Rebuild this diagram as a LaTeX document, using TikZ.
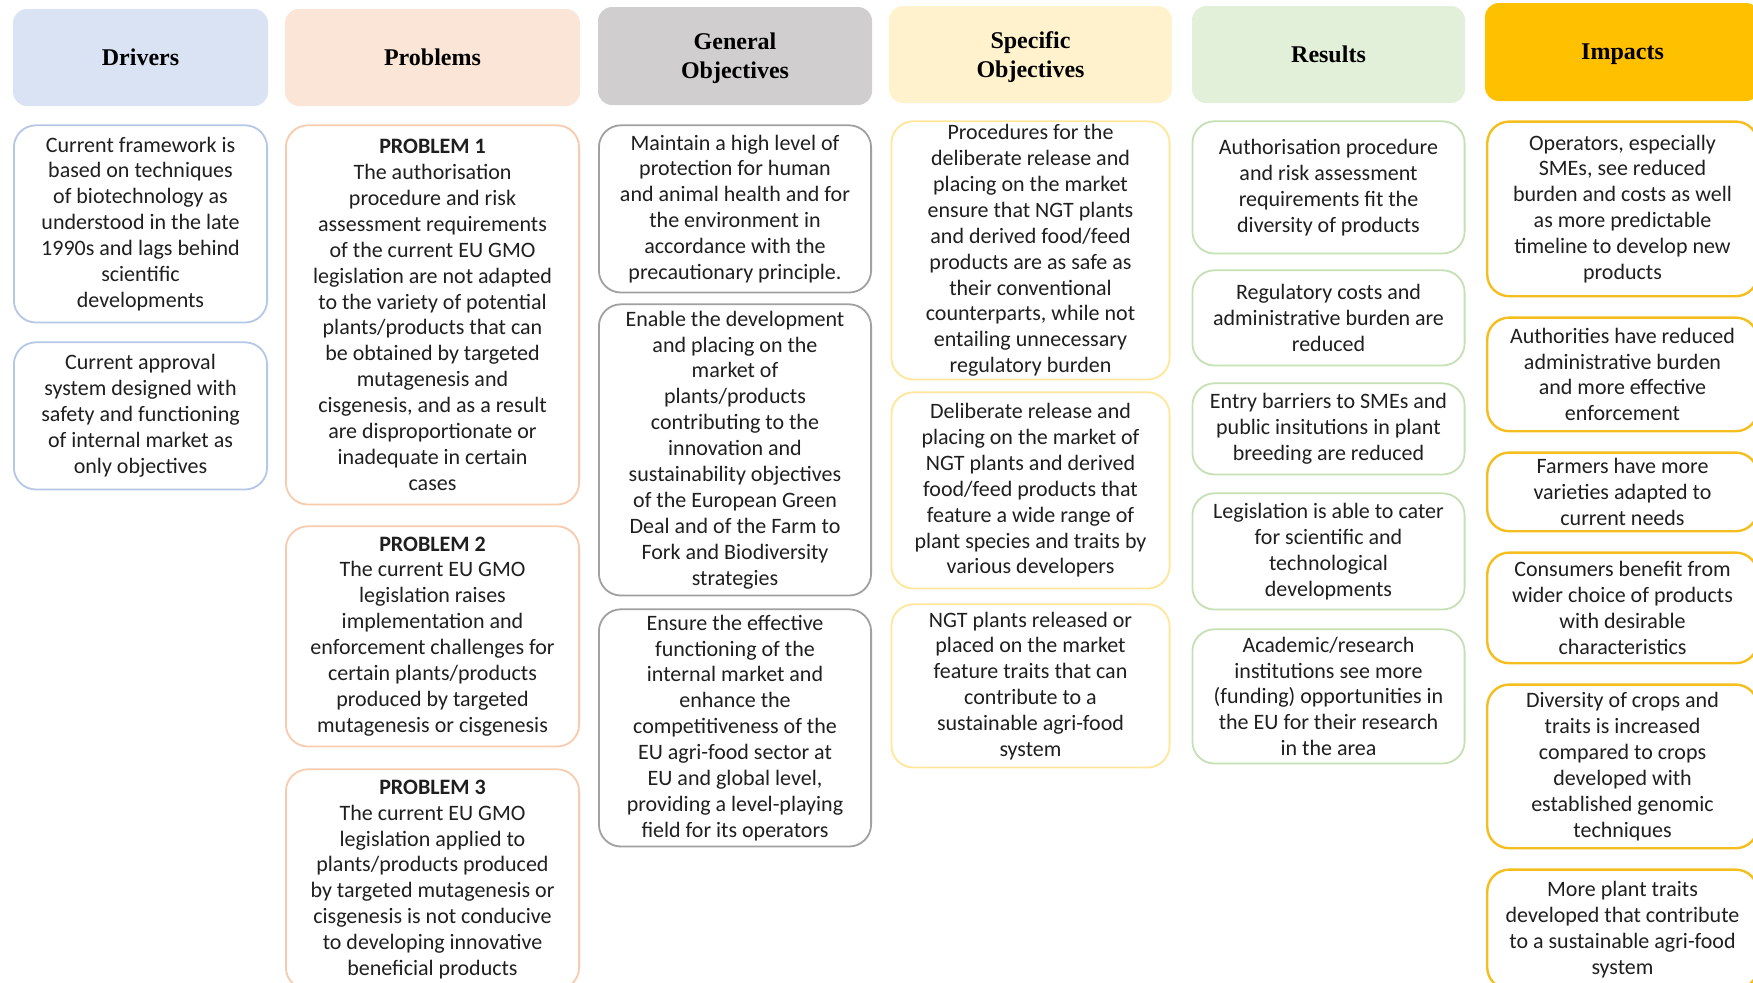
\documentclass[tikz,border=0pt]{standalone}
\usepackage{fontspec}
\setmainfont{Carlito}
\newfontfamily\headfont{Liberation Serif}
\usetikzlibrary{positioning}
\definecolor{drvfill}{HTML}{DAE3F3}
\definecolor{drvline}{HTML}{B4C7E7}
\definecolor{prbfill}{HTML}{FBE5D6}
\definecolor{prbline}{HTML}{F8CBAD}
\definecolor{genfill}{HTML}{D0CECE}
\definecolor{genline}{HTML}{A0A0A0}
\definecolor{spcfill}{HTML}{FFF2CC}
\definecolor{spcline}{HTML}{FFE699}
\definecolor{resfill}{HTML}{E2F0D9}
\definecolor{resline}{HTML}{C5E0B4}
\definecolor{impfill}{HTML}{FFC000}
\definecolor{impline}{HTML}{F5BE1E}

\begin{document}
\begin{tikzpicture}[head/.style={
rectangle,rounded corners=7pt,draw=none,inner sep=0pt,align=center,text depth=0pt,
font=\headfont\fontsize{12}{14.5}\selectfont\bfseries},
box/.style={
rectangle,rounded corners=11pt,fill=white,line width=0.9pt, % text boxes
inner sep=0pt,align=center,text=black!88,font=\fontsize{11}{12.95}\selectfont}]

\tikzset{
  drv/.style={draw=drvline,minimum width=126.6pt},
  prb/.style={draw=prbline,minimum width=146.6pt},
  gen/.style={draw=genline,minimum width=136.1pt},
  spc/.style={draw=spcline,minimum width=139.1pt},
  res/.style={draw=resline,minimum width=136.1pt},
  imp/.style={draw=impline,minimum width=135.3pt,line width=1.2pt}
}

    \useasboundingbox (0,0) rectangle (876.5pt,-491pt);
    \clip (0,0) rectangle (876.5pt,-491pt);

    \node[head,fill=drvfill,minimum width=127.5pt,minimum height=48.5pt] at (70.25pt,-28.75pt) (drivers) {Drivers};
    \node[head,fill=prbfill,minimum width=147.5pt,minimum height=48.5pt] at (216.25pt,-28.75pt) (problems) {Problems};
    \node[head,fill=genfill,minimum width=137pt,minimum height=49pt] at (367.5pt,-28pt) (general) {General\\Objectives};
    \node[head,fill=spcfill,minimum width=141.5pt,minimum height=48.5pt] at (515.25pt,-27.25pt) (specific) {Specific\\Objectives};
    \node[head,fill=resfill,minimum width=136.5pt,minimum height=48.5pt] at (664.25pt,-27.25pt) (results) {Results};
    \node[head,fill=impfill,minimum width=137.5pt,minimum height=49pt] at (811.25pt,-26pt) (impacts) {Impacts};

    \node[box,drv,minimum height=98.6pt,below=9pt of drivers] (drv1) {Current framework is\\based on techniques\\of biotechnology as\\understood in the late\\1990s and lags behind\\scientific\\developments};
    \node[box,drv,minimum height=73.6pt,below=9pt of drv1] (drv2) {Current approval\\system designed with\\safety and functioning\\of internal market as\\only objectives};

    \node[box,prb,minimum height=189.6pt,below=9pt of problems] (prb1) {\textbf{PROBLEM 1}\\The authorisation\\procedure and risk\\assessment requirements\\of the current EU GMO\\legislation are not adapted\\to the variety of potential\\plants/products that can\\be obtained by targeted\\mutagenesis and\\cisgenesis, and as a result\\are disproportionate or\\inadequate in certain\\cases};
    \node[box,prb,minimum height=110.1pt,below=10pt of prb1] (prb2) {\textbf{PROBLEM 2}\\The current EU GMO\\legislation raises\\implementation and\\enforcement challenges for\\certain plants/products\\produced by targeted\\mutagenesis or cisgenesis};
    \node[box,prb,minimum height=110.1pt,below=10.5pt of prb2] (prb3) {\textbf{PROBLEM 3}\\The current EU GMO\\legislation applied to\\plants/products produced\\by targeted mutagenesis or\\cisgenesis is not conducive\\to developing innovative\\beneficial products};

    \node[box,gen,minimum height=83.6pt,below=9.5pt of general] (gen1) {Maintain a high level of\\protection for human\\and animal health and for\\the environment in\\accordance with the\\precautionary principle.};
    \node[box,gen,minimum height=145.6pt,below=5pt of gen1] (gen2) {Enable the development\\and placing on the\\market of\\plants/products\\contributing to the\\innovation and\\sustainability objectives\\of the European Green\\Deal and of the Farm to\\Fork and Biodiversity\\strategies};
    \node[box,gen,minimum height=118.6pt,below=6pt of gen2] (gen3) {Ensure the effective\\functioning of the\\internal market and\\enhance the\\competitiveness of the\\EU agri-food sector at\\EU and global level,\\providing a level-playing\\field for its operators};

    \node[box,spc,minimum height=129.1pt,below=8.5pt of specific] (spc1) {Procedures for the\\deliberate release and\\placing on the market\\ensure that NGT plants\\and derived food/feed\\products are as safe as\\their conventional\\counterparts, while not\\entailing unnecessary\\regulatory burden};
    \node[box,spc,minimum height=98.1pt,below=5.5pt of spc1] (spc2) {Deliberate release and\\placing on the market of\\NGT plants and derived\\food/feed products that\\feature a wide range of\\plant species and traits by\\various developers};
    \node[box,spc,minimum height=81.6pt,below=7pt of spc2] (spc3) {NGT plants released or\\placed on the market\\feature traits that can\\contribute to a\\sustainable agri-food\\system};

    \node[box,res,minimum height=66.1pt,below=8.5pt of results] (res1) {Authorisation procedure\\and risk assessment\\requirements fit the\\diversity of products};
    \node[box,res,minimum height=47.6pt,below=7.5pt of res1] (res2) {Regulatory costs and\\administrative burden are\\reduced};
    \node[box,res,minimum height=45.6pt,below=8pt of res2] (res3) {Entry barriers to SMEs and\\public insitutions in plant\\breeding are reduced};
    \node[box,res,minimum height=58.1pt,below=8.5pt of res3] (res4) {Legislation is able to cater\\for scientific and\\technological\\developments};
    \node[box,res,minimum height=67.1pt,below=9pt of res4] (res5) {Academic/research\\institutions see more\\(funding) opportunities in\\the EU for their research\\in the area};

    \node[box,imp,minimum height=87.3pt,below=9.5pt of impacts] (imp1) {Operators, especially\\SMEs, see reduced\\burden and costs as well\\as more predictable\\timeline to develop new\\products};
    \node[box,imp,minimum height=56.8pt,below=9.5pt of imp1] (imp2) {Authorities have reduced\\administrative burden\\and more effective\\enforcement};
    \node[box,imp,minimum height=39.3pt,below=9.5pt of imp2] (imp3) {Farmers have more\\varieties adapted to\\current needs};
    \node[box,imp,minimum height=55.3pt,below=9.5pt of imp3] (imp4) {Consumers benefit from\\wider choice of products\\with desirable\\characteristics};
    \node[box,imp,minimum height=81.8pt,below=9.5pt of imp4] (imp5) {Diversity of crops and\\traits is increased\\compared to crops\\developed with\\established genomic\\techniques};
    \node[box,imp,minimum height=59.8pt,below=9.5pt of imp5] (imp6) {More plant traits\\developed that contribute\\to a sustainable agri-food\\system};

\end{tikzpicture}
\end{document}
